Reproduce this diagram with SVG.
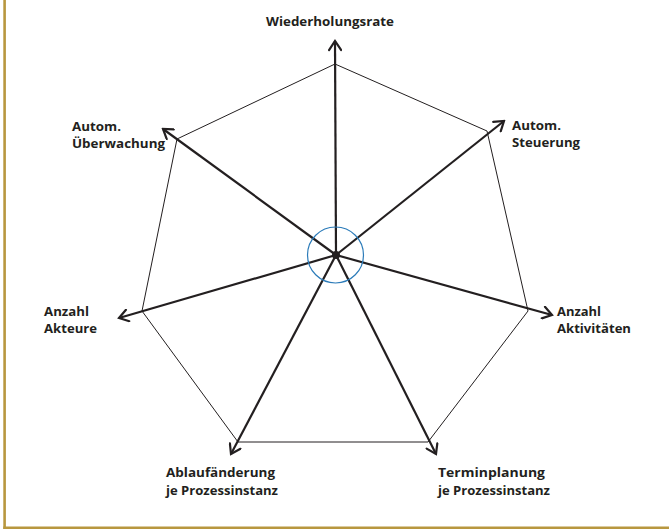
<svg xmlns="http://www.w3.org/2000/svg" width="669" height="529" viewBox="0 0 669 529">
<style>
.lbl{font-family:"Open Sans","Liberation Sans",sans-serif;font-weight:bold;font-size:13px;fill:#231f20}
.axis{stroke:#231f20;stroke-width:2.2;fill:none;marker-end:url(#arr)}
.edge{stroke:#231f20;stroke-width:1;fill:none}
</style>
<defs>
<marker id="arr" markerUnits="userSpaceOnUse" markerWidth="14" markerHeight="14" viewBox="0 0 14 14" refX="12" refY="7" orient="auto">
<path d="M3,1 L12,7 L3,13" fill="none" stroke="#231f20" stroke-width="2.2" stroke-linecap="round" stroke-linejoin="miter"/>
</marker>
</defs>
<rect x="0" y="0" width="669" height="529" fill="#ffffff"/>
<g id="frame">
<line x1="4.6" y1="0" x2="4.6" y2="529" stroke="#b8973f" stroke-width="2.6"/>
<line x1="3.3" y1="527.8" x2="669" y2="527.8" stroke="#b8973f" stroke-width="2.6"/>
</g>
<g id="heptagon">
<polygon class="edge" points="335,64 487,131 528,311 428,442 238,442 142,311 177,139"/>
</g>
<g id="connectors">
<line class="axis" x1="336" y1="255" x2="335" y2="41"/>
<line class="axis" x1="336" y1="255" x2="504" y2="121"/>
<line class="axis" x1="336" y1="255" x2="552" y2="315"/>
<line class="axis" x1="336" y1="255" x2="436" y2="454"/>
<line class="axis" x1="336" y1="255" x2="231" y2="454"/>
<line class="axis" x1="336" y1="255" x2="119" y2="318"/>
<line class="axis" x1="336" y1="255" x2="163" y2="129"/>
</g>
<g id="center">
<circle cx="335.5" cy="255" r="28" fill="none" stroke="#2b7bb9" stroke-width="1.2"/>
<circle cx="336" cy="255" r="4" fill="#231f20"/>
</g>
<g id="n-wiederholungsrate">
<text class="lbl" x="266" y="26" textLength="128" lengthAdjust="spacingAndGlyphs">Wiederholungsrate</text>
</g>
<g id="n-autom-steuerung">
<text class="lbl" x="512" y="130" textLength="49" lengthAdjust="spacingAndGlyphs">Autom.</text>
<text class="lbl" x="512" y="147" textLength="68" lengthAdjust="spacingAndGlyphs">Steuerung</text>
</g>
<g id="n-anzahl-aktivitaeten">
<text class="lbl" x="557" y="316" textLength="44" lengthAdjust="spacingAndGlyphs">Anzahl</text>
<text class="lbl" x="557" y="333" textLength="74" lengthAdjust="spacingAndGlyphs">Aktivitäten</text>
</g>
<g id="n-terminplanung">
<text class="lbl" x="438" y="477" textLength="107" lengthAdjust="spacingAndGlyphs">Terminplanung</text>
<text class="lbl" x="438" y="495" textLength="112" lengthAdjust="spacingAndGlyphs">je Prozessinstanz</text>
</g>
<g id="n-ablaufaenderung">
<text class="lbl" x="166" y="477" textLength="109" lengthAdjust="spacingAndGlyphs">Ablaufänderung</text>
<text class="lbl" x="166" y="495" textLength="112" lengthAdjust="spacingAndGlyphs">je Prozessinstanz</text>
</g>
<g id="n-anzahl-akteure">
<text class="lbl" x="44" y="316" textLength="45" lengthAdjust="spacingAndGlyphs">Anzahl</text>
<text class="lbl" x="44" y="333" textLength="53" lengthAdjust="spacingAndGlyphs">Akteure</text>
</g>
<g id="n-autom-ueberwachung">
<text class="lbl" x="72" y="131" textLength="49" lengthAdjust="spacingAndGlyphs">Autom.</text>
<text class="lbl" x="72" y="148" textLength="93" lengthAdjust="spacingAndGlyphs">Überwachung</text>
</g>
</svg>
